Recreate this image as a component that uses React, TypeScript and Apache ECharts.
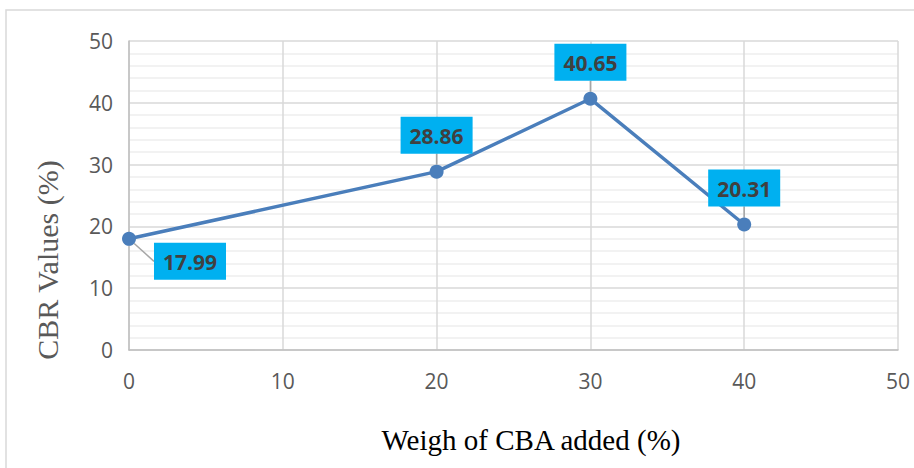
import React, { useEffect, useRef } from "react";
import * as echarts from "echarts";

const xValues = [0, 20, 30, 40];
const cbrValues = [17.99, 28.86, 40.65, 20.31];
const xAxisTitle = "Weigh of CBA added (%)";
const yAxisTitle = "CBR Values (%)";

export default function App() {
  const ref = useRef<HTMLDivElement>(null);
  useEffect(() => {
    const chart = echarts.init(ref.current!, null, { renderer: "svg" });
    const tickFont = { fontFamily: "Open Sans", fontSize: 21, color: "#595959" };
    chart.setOption({
      animation: false,
      backgroundColor: "#ffffff",
      graphic: [
        {
          type: "rect",
          shape: { x: 6, y: 10, width: 920, height: 470 },
          style: { fill: "none", stroke: "#d9d9d9", lineWidth: 1.5 },
          silent: true,
          z: -1,
        },
        {
          type: "text",
          x: 531,
          y: 440,
          style: {
            text: xAxisTitle,
            font: "29px 'Liberation Serif'",
            fill: "#000000",
            align: "center",
            verticalAlign: "middle",
          },
        },
        {
          type: "text",
          x: 47,
          y: 260,
          rotation: Math.PI / 2,
          style: {
            text: yAxisTitle,
            font: "30px 'Liberation Serif'",
            fill: "#595959",
            align: "center",
            verticalAlign: "middle",
          },
        },
      ],
      grid: { left: 129, right: 16, top: 41, bottom: 118 },
      xAxis: {
        type: "value",
        min: 0,
        max: 50,
        interval: 10,
        axisLine: { show: true, lineStyle: { color: "#bfbfbf", width: 1.5 } },
        axisTick: { show: false },
        axisLabel: { ...tickFont, margin: 20 },
        splitLine: { show: true, lineStyle: { color: "#d9d9d9", width: 1.5 } },
      },
      yAxis: {
        type: "value",
        min: 0,
        max: 50,
        interval: 10,
        axisLine: { show: true, lineStyle: { color: "#bfbfbf", width: 1.5 } },
        axisTick: { show: false },
        axisLabel: { ...tickFont, margin: 16 },
        splitLine: { show: true, lineStyle: { color: "#d9d9d9", width: 1.5 } },
        minorTick: { show: false, splitNumber: 5 },
        minorSplitLine: { show: true, lineStyle: { color: "#eeeeee", width: 1.5 } },
      },
      series: [
        {
          type: "line",
          data: xValues.map((x, i) => [x, cbrValues[i]]),
          symbol: "circle",
          symbolSize: 14,
          itemStyle: { color: "#4a7ebb" },
          lineStyle: { color: "#4a7ebb", width: 3.5 },
          label: {
            show: true,
            position: "top",
            distance: 11,
            backgroundColor: "#00b0f0",
            padding: [9, 9, 7, 9],
            fontFamily: "Open Sans",
            fontWeight: "bold",
            fontSize: 21,
            color: "#404040",
            formatter: (p: any) => p.value[1].toFixed(2),
          },
          labelLine: { show: true, lineStyle: { color: "#a6a6a6", width: 1.5 } },
          labelLayout: (p: any) =>
            p.dataIndex === 0 ? { dx: 61, dy: 59 } : {},
        },
      ],
    });
    return () => chart.dispose();
  }, []);
  return <div ref={ref} style={{ width: 914, height: 468, position: "absolute", left: 0, top: 0 }} />;
}
